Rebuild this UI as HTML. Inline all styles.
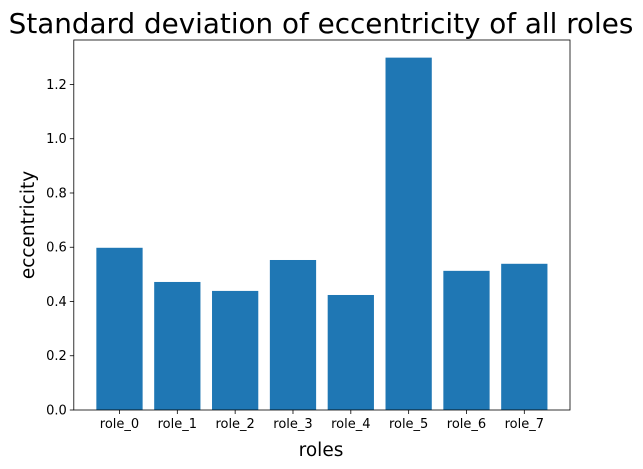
<!DOCTYPE html>
<html><head><meta charset="utf-8"><style>
body{margin:0;background:#fff;}
svg{display:block;font-family:"DejaVu Sans","Liberation Sans",sans-serif;}
</style></head><body>
<svg id="chart" width="643" height="469">
<text x="321" y="33" font-size="27.8" text-anchor="middle">Standard deviation of eccentricity of all roles</text>
<g id="bars"></g><g id="axes"></g>
<text x="321" y="456" font-size="18.5" text-anchor="middle">roles</text>
<text transform="translate(34,225) rotate(-90)" font-size="18.5" text-anchor="middle">eccentricity</text>
</svg>
<script>
const categories=["role_0","role_1","role_2","role_3","role_4","role_5","role_6","role_7"];
const values=[0.598,0.472,0.439,0.553,0.424,1.299,0.513,0.539];
const yTicks=[0,0.2,0.4,0.6,0.8,1.0,1.2];
const yTickLabels=["0.0","0.2","0.4","0.6","0.8","1.0","1.2"];
const L=73.8,R=570,T=40,B=410;
const xmin=-0.79,xmax=categories.length-1+0.79;
const ymax=1.364;
const xs=i=>L+(i-xmin)/(xmax-xmin)*(R-L);
const ys=v=>B-v/ymax*(B-T);
const ns="http://www.w3.org/2000/svg";
const bars=document.getElementById('bars'),axes=document.getElementById('axes');
function mk(tag,attrs,parent){const e=document.createElementNS(ns,tag);for(const k in attrs)e.setAttribute(k,attrs[k]);parent.appendChild(e);return e;}
const bw=0.8*(xs(1)-xs(0));
values.forEach((v,i)=>{
 const r=mk('rect',{x:xs(i)-bw/2,y:ys(v),width:bw,height:B-ys(v),fill:'#1f77b4'},bars);
 
 
 mk('line',{x1:xs(i),x2:xs(i),y1:B,y2:B+4,stroke:'#000','stroke-width':0.8},axes);
 const t=mk('text',{x:xs(i),y:B+18,'font-size':13,'text-anchor':'middle'},axes);
 t.textContent=categories[i];
 
 
});
yTicks.forEach((v,i)=>{
 mk('line',{x1:L-4,x2:L,y1:ys(v),y2:ys(v),stroke:'#000','stroke-width':0.8},axes);
 const t=mk('text',{x:L-7,y:ys(v)+4.5,'font-size':13,'text-anchor':'end'},axes);
 t.textContent=yTickLabels[i];
 
 
});
const f=mk('rect',{x:L,y:T,width:R-L,height:B-T,fill:'none',stroke:'#000','stroke-width':0.8},axes);


</script>
</body></html>
